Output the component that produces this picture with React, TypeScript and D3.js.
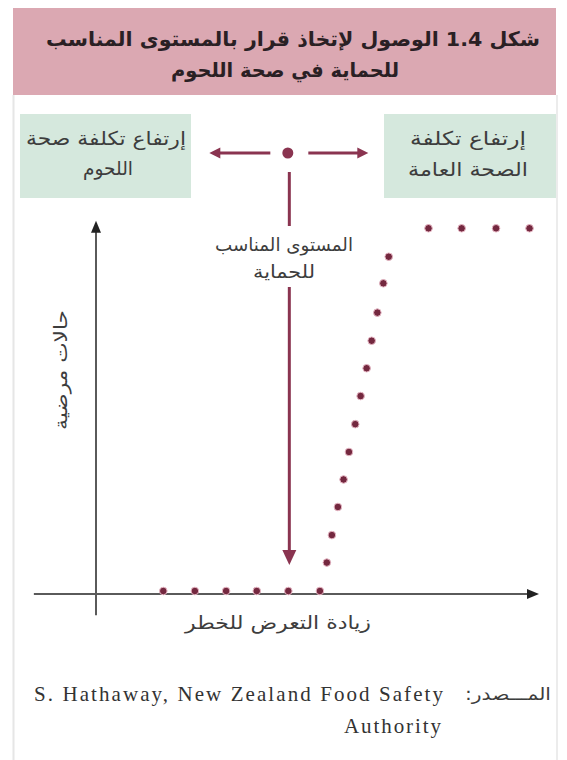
import { useEffect } from "react";
import * as d3 from "d3";

// risk exposure (x) and number of illness cases (y)
const exposure = [
  2.1, 3.1, 4.09, 5.06, 6.06, 7.06, 7.28, 7.44, 7.63, 7.81, 7.98, 8.18, 8.35,
  8.54, 8.7, 8.88, 9.07, 9.24, 10.5, 11.55, 12.64, 13.7,
];
const cases = [
  0, 0, 0, 0, 0, 0, 0.94, 1.85, 2.78, 3.69, 4.6, 5.52, 6.45, 7.37, 8.28, 9.21,
  10.18, 11.06, 12, 12, 12, 12,
];
const protectionLevel = 6.06;

const titleLines = ["شكل 1.4  الوصول لإتخاذ قرار بالمستوى المناسب", "للحماية في صحة اللحوم"];
const leftBoxLines = ["إرتفاع تكلفة صحة", "اللحوم"];
const rightBoxLines = ["إرتفاع تكلفة", "الصحة العامة"];
const levelLabel = ["المستوى المناسب", "للحماية"];
const xLabel = "زيادة التعرض للخطر";
const yLabel = "حالات مرضية";
const sourceLabel = "المـــصدر:";
const sourceLines = ["S. Hathaway, New Zealand Food Safety", "Authority"];

const W = 567;
const H = 760;
const arabic = "'DejaVu Sans', sans-serif";
const maroon = "#8a3450";
const axisColor = "#5a5a5a";
const textColor = "#3d3d3d";

// Arabic text stretched to the width it takes in the scan
function Ar({ x, y, w, size = 18, bold = false, anchor = "middle", children }: any) {
  return (
    <text x={x} y={y} textAnchor={anchor} direction="rtl" fontFamily={arabic}
      fontWeight={bold ? "bold" : "normal"} fontSize={size}
      textLength={w} lengthAdjust="spacingAndGlyphs" fill={bold ? "#2a2024" : textColor}>
      {children}
    </text>
  );
}

export default function App() {
  useEffect(() => {
    document.body.style.margin = "0";
  }, []);

  const x = d3.scaleLinear().domain([0, 14]).range([97, 539]);
  const y = d3.scaleLinear().domain([0, 12]).range([591, 228.3]);
  const points = exposure.map((e, i) => [e, cases[i]] as [number, number]);

  const axisY = y(-0.1);
  const xAxisStart = x(-2);
  const xAxisEnd = x(14);
  const yAxisTop = y(12.25);
  const yAxisBottom = y(-0.8);
  const lx = x(protectionLevel) + 1;
  const markerY = 153;

  return (
    <svg width={W} height={H} style={{ display: "block", background: "#fff" }}>
      {/* frame */}
      <line x1={13.5} x2={13.5} y1={95} y2={H} stroke="#e6e6e6" strokeWidth={2} />
      <line x1={557} x2={557} y1={95} y2={H} stroke="#ececec" strokeWidth={2} />

      {/* title */}
      <rect x={13} y={8} width={543} height={87} fill="#dba8b2" />
      <Ar x={293} y={46} w={494} size={20} bold>{titleLines[0]}</Ar>
      <Ar x={285} y={77} w={228} size={20} bold>{titleLines[1]}</Ar>

      {/* cost boxes */}
      <rect x={20} y={114} width={171} height={84} fill="#d5e8dd" />
      <rect x={384} y={114} width={172} height={84} fill="#d5e8dd" />
      <Ar x={106} y={145} w={160} size={19}>{leftBoxLines[0]}</Ar>
      <Ar x={108} y={175} w={50} size={19}>{leftBoxLines[1]}</Ar>
      <Ar x={468} y={145} w={116} size={19}>{rightBoxLines[0]}</Ar>
      <Ar x={468} y={176} w={120} size={19}>{rightBoxLines[1]}</Ar>

      {/* decision marker and arrows */}
      <circle cx={lx - 1.5} cy={markerY} r={5.5} fill={maroon} />
      <line x1={lx - 19} x2={lx - 70} y1={markerY} y2={markerY} stroke={maroon} strokeWidth={3} />
      <path d={`M${lx - 80},${markerY} l11,-5.5 l0,11 z`} fill={maroon} />
      <line x1={lx + 19} x2={lx + 69} y1={markerY} y2={markerY} stroke={maroon} strokeWidth={3} />
      <path d={`M${lx + 79},${markerY} l-11,-5.5 l0,11 z`} fill={maroon} />

      <line x1={lx} x2={lx} y1={172} y2={226} stroke={maroon} strokeWidth={3} />
      <line x1={lx} x2={lx} y1={287} y2={552} stroke={maroon} strokeWidth={3} />
      <path d={`M${lx},565 l-7,-15 l14,0 z`} fill={maroon} />
      <Ar x={284} y={251} w={138} size={18}>{levelLabel[0]}</Ar>
      <Ar x={284} y={278} w={62} size={18}>{levelLabel[1]}</Ar>

      {/* axes */}
      <line x1={xAxisStart} x2={xAxisEnd - 10} y1={axisY} y2={axisY} stroke={axisColor} strokeWidth={2} />
      <path d={`M${xAxisEnd},${axisY} l-12,-5 l0,10 z`} fill="#222" />
      <line x1={x(0) - 1} x2={x(0) - 1} y1={yAxisBottom} y2={yAxisTop + 10} stroke={axisColor} strokeWidth={2} />
      <path d={`M${x(0) - 1},${yAxisTop} l-5,12 l10,0 z`} fill="#222" />

      <Ar x={278} y={629} w={186} size={18}>{xLabel}</Ar>
      <g transform="translate(67,370) rotate(-90)">
        <Ar x={0} y={0} w={120} size={18}>{yLabel}</Ar>
      </g>

      {/* illness curve */}
      {points.map(([e, c], i) => (
        <circle key={i} cx={x(e)} cy={y(c)} r={3.8} fill="#74283f" stroke="#e7b8c5" strokeWidth={1} />
      ))}

      {/* source */}
      <Ar x={551} y={700} w={86} size={17} anchor="start">{sourceLabel}</Ar>
      <text x={34} y={701} fontFamily="'Liberation Serif', serif" fontSize={21}
        textLength={409} lengthAdjust="spacing" fill="#333">
        {sourceLines[0]}
      </text>
      <text x={344} y={733} fontFamily="'Liberation Serif', serif" fontSize={21}
        textLength={97} lengthAdjust="spacing" fill="#333">
        {sourceLines[1]}
      </text>
    </svg>
  );
}
